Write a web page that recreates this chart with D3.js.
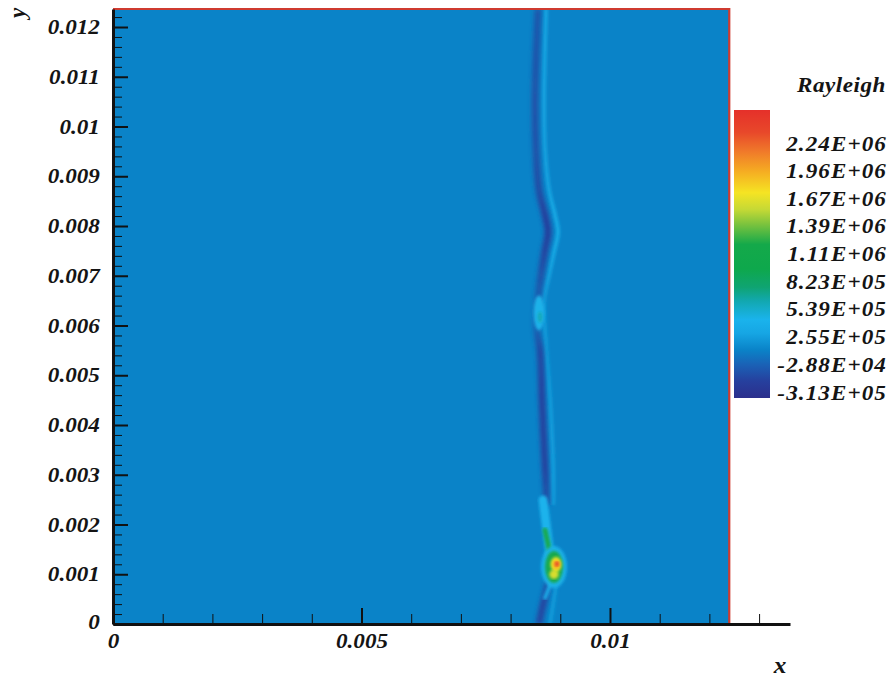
<!DOCTYPE html>
<html>
<head>
<meta charset="utf-8">
<script src="https://cdn.jsdelivr.net/npm/d3@7"></script>
<style>
  body { margin: 0; background: #fff; }
</style>
</head>
<body>
<div id="chart"></div>
<script>
var w = 891, h = 679;
var fontFam = '"Liberation Serif", "Times New Roman", Times, serif';

// axis ticks
var xMajor = [0, 0.005, 0.01];
var xMajorLabels = ["0", "0.005", "0.01"];
var xMinor = [0.001, 0.002, 0.003, 0.004, 0.006, 0.007, 0.008, 0.009, 0.011, 0.012, 0.013];
var yMajor = [0, 0.001, 0.002, 0.003, 0.004, 0.005, 0.006, 0.007, 0.008, 0.009, 0.01, 0.011, 0.012];
var yMajorLabels = ["0", "0.001", "0.002", "0.003", "0.004", "0.005", "0.006", "0.007", "0.008", "0.009", "0.01", "0.011", "0.012"];

// legend (Rayleigh levels)
var legendLevels = [2.24e6, 1.96e6, 1.67e6, 1.39e6, 1.11e6, 8.23e5, 5.39e5, 2.55e5, -2.88e4, -3.13e5];
var legendLabels = ["2.24E+06", "1.96E+06", "1.67E+06", "1.39E+06", "1.11E+06", "8.23E+05", "5.39E+05", "2.55E+05", "-2.88E+04", "-3.13E+05"];
var colorValues = [-3.74e5, -2.0e5, -3.0e4, 1.2e5, 2.9e5, 4.3e5, 6.2e5, 7.6e5, 9.5e5, 1.2e6, 1.4e6, 1.56e6, 1.73e6, 1.95e6, 2.15e6, 2.35e6, 2.578e6];
var colorHex = ["#2c2f8c", "#26409e", "#1a62b6", "#0a83c8", "#16a6e4", "#1ab3ec", "#12a8b0", "#0fa472", "#0ea84c", "#14a94a", "#78c23e", "#c6d935", "#f5e423", "#f5ac22", "#f07a2a", "#e8482a", "#e5302a"];
var bgValue = 1.2e5;

// front: dark (negative) ridge, upper part and part below the hot spot
var darkX = [0.008551, 0.008491, 0.008511, 0.008571, 0.008692, 0.008753, 0.008692, 0.008612, 0.008551, 0.008531, 0.008592, 0.008632, 0.008692, 0.008732];
var darkY = [0.012362, 0.010533, 0.009528, 0.008724, 0.008221, 0.007879, 0.007518, 0.007015, 0.006513, 0.005910, 0.005508, 0.004503, 0.003156, 0.002392];
var darkS = [0.65, 0.7, 0.7, 0.8, 1.0, 1.0, 0.95, 0.7, 0.55, 0.5, 0.85, 0.95, 0.95, 0.65];
var dark2X = [0.008833, 0.008753, 0.008652, 0.008571];
var dark2Y = [0.001100, 0.000784, 0.000382, 0.0];
var dark2S = [0.2, 0.8, 0.9, 0.85];

// front: light (positive) ridge just behind it
var lightX = [0.008712, 0.008672, 0.008692, 0.008773, 0.008893, 0.008954, 0.008873, 0.008773, 0.008672, 0.008712, 0.008793, 0.008853, 0.008853];
var lightY = [0.012362, 0.010533, 0.009528, 0.008724, 0.008221, 0.007879, 0.007477, 0.007015, 0.006513, 0.005608, 0.004503, 0.003156, 0.002392];
var lightS = [0.75, 0.7, 0.65, 0.7, 0.8, 0.85, 0.8, 0.65, 0.55, 0.5, 0.55, 0.6, 0.6];
var light2X = [0.008913, 0.008853, 0.008793];
var light2Y = [0.000784, 0.000382, 0.0];

// streaks near the hot spot (x1, y1, x2, y2, half width, value)
var streakX1 = [0.008652, 0.008692, 0.008853];
var streakY1 = [0.002492, 0.001890, 0.000925];
var streakX2 = [0.008793, 0.008813, 0.008692];
var streakY2 = [0.001387, 0.001327, 0.000523];
var streakW = [0.00009, 0.00005, 0.00004];
var streakV = [4.3e5, 1.1e6, 3.6e5];

// blobs (centre, radii, value)
var blobX = [0.008571, 0.008592, 0.008873, 0.008873, 0.008913, 0.008873, 0.008924, 0.008934];
var blobY = [0.006251, 0.006170, 0.001146, 0.001146, 0.001196, 0.000995, 0.001196, 0.001206];
var blobRx = [0.000110, 0.000045, 0.000260, 0.000180, 0.000110, 0.000095, 0.000060, 0.000040];
var blobRy = [0.000350, 0.000110, 0.000420, 0.000320, 0.000150, 0.000090, 0.000085, 0.000050];
var blobV = [4.4e5, 6.0e5, 4.4e5, 1.1e6, 1.72e6, 1.62e6, 2.0e6, 2.45e6];

var x = d3.scaleLinear().domain([0, 0.013622]).range([113, 790]);
var y = d3.scaleLinear().domain([0, 0.012362]).range([624, 9]);
var xEdge = 0.0124;
var color = d3.scaleLinear().domain(colorValues).range(colorHex);

var svg = d3.select('#chart').append('svg')
  .attr('width', w)
  .attr('height', h);

var defs = svg.append('defs');

defs.append('clipPath').attr('id', 'plotclip')
  .append('rect')
  .attr('x', x(0))
  .attr('y', y(y.domain()[1]))
  .attr('width', x(xEdge) - x(0))
  .attr('height', y(0) - y(y.domain()[1]));

function blur(id, sd) {
  defs.append('filter').attr('id', id)
    .attr('x', '-80%').attr('y', '-10%').attr('width', '260%').attr('height', '120%')
    .append('feGaussianBlur').attr('stdDeviation', sd);
}
blur('blurDark', 2.2);
blur('blurLight', 1.4);
blur('blurBlob', 1.5);

// opacity gradients along the front
function frontGradient(id, ys, ss, c) {
  var g = defs.append('linearGradient').attr('id', id)
    .attr('gradientUnits', 'userSpaceOnUse')
    .attr('x1', 0).attr('x2', 0)
    .attr('y1', y.range()[1]).attr('y2', y.range()[0]);
  var span = y.range()[0] - y.range()[1];
  ys.forEach(function(v, i) {
    g.append('stop')
      .attr('offset', (y(v) - y.range()[1]) / span)
      .attr('stop-color', c)
      .attr('stop-opacity', ss[i]);
  });
}
frontGradient('darkGrad', darkY, darkS, color(-2.2e5));
frontGradient('dark2Grad', dark2Y, dark2S, color(-2.2e5));
frontGradient('lightGrad', lightY, lightS, color(4.3e5));

// field
var field = svg.append('g').attr('clip-path', 'url(#plotclip)');

field.append('rect')
  .attr('x', x(0))
  .attr('y', y(y.domain()[1]))
  .attr('width', x(xEdge) - x(0))
  .attr('height', y(0) - y(y.domain()[1]))
  .attr('fill', color(bgValue));

var line = d3.line()
  .x(function(d) { return x(d[0]); })
  .y(function(d) { return y(d[1]); })
  .curve(d3.curveCatmullRom);

field.append('path')
  .attr('d', line(d3.zip(lightX, lightY)))
  .attr('fill', 'none')
  .attr('stroke', 'url(#lightGrad)')
  .attr('stroke-width', 4)
  .attr('filter', 'url(#blurLight)');

field.append('path')
  .attr('d', line(d3.zip(light2X, light2Y)))
  .attr('fill', 'none')
  .attr('stroke', color(3.6e5))
  .attr('stroke-opacity', 0.55)
  .attr('stroke-width', 4)
  .attr('filter', 'url(#blurLight)');

field.append('path')
  .attr('d', line(d3.zip(darkX, darkY)))
  .attr('fill', 'none')
  .attr('stroke', 'url(#darkGrad)')
  .attr('stroke-width', 7)
  .attr('filter', 'url(#blurDark)');

field.append('path')
  .attr('d', line(d3.zip(dark2X, dark2Y)))
  .attr('fill', 'none')
  .attr('stroke', 'url(#dark2Grad)')
  .attr('stroke-width', 7)
  .attr('filter', 'url(#blurDark)');

field.selectAll('line.streak')
  .data(d3.range(streakV.length))
  .enter().append('line')
  .attr('class', 'streak')
  .attr('x1', function(i) { return x(streakX1[i]); })
  .attr('y1', function(i) { return y(streakY1[i]); })
  .attr('x2', function(i) { return x(streakX2[i]); })
  .attr('y2', function(i) { return y(streakY2[i]); })
  .attr('stroke', function(i) { return color(streakV[i]); })
  .attr('stroke-width', function(i) { return 2 * (x(streakW[i]) - x(0)); })
  .attr('stroke-linecap', 'round')
  .attr('filter', 'url(#blurBlob)');

var blobOrder = d3.range(blobV.length).sort(function(a, b) { return blobV[a] - blobV[b]; });
field.selectAll('ellipse.blob')
  .data(blobOrder)
  .enter().append('ellipse')
  .attr('class', 'blob')
  .attr('cx', function(i) { return x(blobX[i]); })
  .attr('cy', function(i) { return y(blobY[i]); })
  .attr('rx', function(i) { return x(blobRx[i]) - x(0); })
  .attr('ry', function(i) { return y(0) - y(blobRy[i]); })
  .attr('fill', function(i) { return color(blobV[i]); })
  .attr('filter', 'url(#blurBlob)');

// red frame (top and right edge of the domain)
svg.append('path')
  .attr('d', 'M' + x(0) + ',' + y(y.domain()[1]) + 'H' + x(xEdge) + 'V' + y(0))
  .attr('fill', 'none')
  .attr('stroke', '#cf3b30')
  .attr('stroke-width', 2.2);

// axes
var stretch = 'scale(1.1,1)';

var yAxisMinor = d3.axisLeft(y)
  .tickValues(d3.range(0, 0.0124, 0.0002).filter(function(v) { return Math.abs(v * 1000 - Math.round(v * 1000)) > 1e-6; }))
  .tickSizeInner(-9).tickSizeOuter(0).tickFormat('');
svg.append('g').attr('transform', 'translate(' + x(0) + ',0)').call(yAxisMinor)
  .call(function(g) { g.select('.domain').remove(); })
  .selectAll('line').attr('stroke', '#111').attr('stroke-width', 1);

var yAxis = d3.axisLeft(y)
  .tickValues(yMajor)
  .tickSizeInner(-15).tickSizeOuter(0).tickPadding(12)
  .tickFormat(function(d, i) { return yMajorLabels[i]; });
var yg = svg.append('g').attr('transform', 'translate(' + x(0) + ',0)').call(yAxis);
yg.select('.domain').attr('stroke', '#111').attr('stroke-width', 3);
yg.selectAll('line').attr('stroke', '#111').attr('stroke-width', 2);
yg.selectAll('text').attr('transform', stretch);
d3.select(yg.selectAll('text').nodes()[0]).attr('y', -2);

var xAxisMinor = d3.axisBottom(x)
  .tickValues(xMinor)
  .tickSizeInner(-10).tickSizeOuter(0).tickFormat('');
svg.append('g').attr('transform', 'translate(0,' + y(0) + ')').call(xAxisMinor)
  .call(function(g) { g.select('.domain').remove(); })
  .selectAll('line').attr('stroke', '#111').attr('stroke-width', 1);

var xAxis = d3.axisBottom(x)
  .tickValues(xMajor)
  .tickSizeInner(-16).tickSizeOuter(0).tickPadding(9)
  .tickFormat(function(d, i) { return xMajorLabels[i]; });
var xg = svg.append('g').attr('transform', 'translate(0,' + y(0) + ')').call(xAxis);
xg.select('.domain').attr('stroke', '#111').attr('stroke-width', 3);
xg.selectAll('line').attr('stroke', '#111').attr('stroke-width', 2);
xg.selectAll('text').attr('transform', stretch);

// axis titles
svg.append('text')
  .attr('transform', 'translate(17,13) rotate(-90)')
  .attr('text-anchor', 'middle')
  .attr('dominant-baseline', 'central')
  .style('font-size', '23px')
  .text('y');

svg.append('text')
  .attr('transform', 'translate(780,673) ' + stretch)
  .attr('text-anchor', 'middle')
  .style('font-size', '23px')
  .text('x');

// legend
var ly = d3.scaleLinear().domain([colorValues[0], colorValues[colorValues.length - 1]]).range([398, 110]);

var grad = defs.append('linearGradient').attr('id', 'legendGrad')
  .attr('x1', 0).attr('y1', 1).attr('x2', 0).attr('y2', 0);
grad.selectAll('stop')
  .data(colorValues)
  .enter().append('stop')
  .attr('offset', function(d) { return (d - colorValues[0]) / (colorValues[colorValues.length - 1] - colorValues[0]); })
  .attr('stop-color', function(d, i) { return colorHex[i]; });

svg.append('rect')
  .attr('x', 734)
  .attr('y', ly.range()[1])
  .attr('width', 36)
  .attr('height', ly.range()[0] - ly.range()[1])
  .attr('fill', 'url(#legendGrad)');

svg.append('text')
  .attr('transform', 'translate(886,92) ' + stretch)
  .attr('text-anchor', 'end')
  .style('letter-spacing', '0.5px')
  .text('Rayleigh');

svg.selectAll('text.level')
  .data(legendLevels)
  .enter().append('text')
  .attr('class', 'level')
  .attr('transform', function(d) { return 'translate(887,' + ly(d) + ') ' + stretch; })
  .attr('dy', '0.36em')
  .attr('text-anchor', 'end')
  .style('letter-spacing', '1px')
  .text(function(d, i) { return legendLabels[i]; });

// common text style (set inline so axis defaults do not win)
svg.selectAll('text')
  .style('font-family', fontFam)
  .style('font-weight', 'bold')
  .style('font-style', 'italic')
  .attr('fill', '#141414')
  .each(function() {
    if (!this.style.fontSize) d3.select(this).style('font-size', '21px');
  });
</script>
</body>
</html>
